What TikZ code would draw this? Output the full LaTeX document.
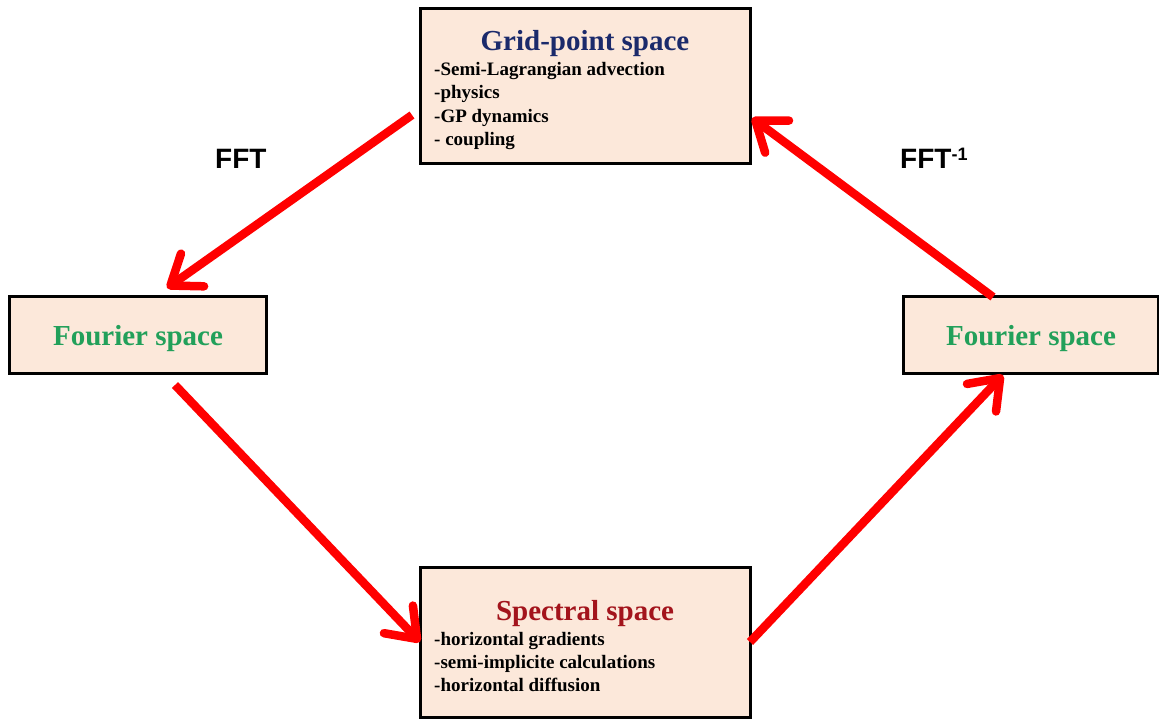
\documentclass[tikz,border=0pt]{standalone}
\usepackage{fontspec}
\setmainfont{Liberation Serif}
\newfontfamily\arialf{Liberation Sans}
\usetikzlibrary{arrows.meta}
\definecolor{boxfill}{HTML}{FCE8DA}
\definecolor{gpblue}{HTML}{1B2A6B}
\definecolor{specred}{HTML}{A3141C}
\definecolor{fgreen}{HTML}{22A05A}
\definecolor{arrred}{HTML}{FF0000}
\begin{document}
\begin{tikzpicture}[x=1pt,y=-1pt,
 panel/.style={draw=black,line width=3pt,fill=boxfill,inner sep=0pt},
 title/.style={anchor=base,inner sep=0pt,font=\bfseries\fontsize{29}{32}\selectfont},
 item/.style={anchor=base west,inner sep=0pt,font=\bfseries\fontsize{19}{23}\selectfont},
 flow/.style={draw=arrred,line width=8.5pt,-{Straight Barb[length=27pt,width=40pt,round]}},
 lbl/.style={anchor=base west,inner sep=0pt,font=\arialf\bfseries\fontsize{28}{30}\selectfont}]
\useasboundingbox (0,0) rectangle (1159,720);
% boxes
\node[panel,minimum width=330pt,minimum height=155pt] (gp) at (585,85.5) {};
\node[panel,minimum width=330pt,minimum height=150pt] (sp) at (585,642) {};
\node[panel,minimum width=257pt,minimum height=77pt] (fl) at (137.5,334.5) {};
\node[panel,minimum width=255pt,minimum height=77pt] (fr) at (1030.5,334.5) {};
% grid-point text
\node[title,text=gpblue] (gpt) at (585,50) {Grid-point space};
\node[item] (gp1) at (434,75) {-Semi-Lagrangian advection};
\node[item] (gp2) at (434,98) {-physics};
\node[item] (gp3) at (434,122) {-GP dynamics};
\node[item] (gp4) at (434,145) {- coupling};
% spectral text
\node[title,text=specred] (spt) at (585,620) {Spectral space};
\node[item] (sp1) at (434,645) {-horizontal gradients};
\node[item] (sp2) at (434,668) {-semi-implicite calculations};
\node[item] (sp3) at (434,691) {-horizontal diffusion};
% fourier text
\node[title,text=fgreen] (flt) at (138,345) {Fourier space};
\node[title,text=fgreen] (frt) at (1031,345) {Fourier space};
% labels
\node[lbl] (fft) at (215,168) {FFT};
\node[lbl] (ifft) at (900,168) {FFT\raisebox{8pt}{\fontsize{18}{18}\selectfont -1}};
% arrow end points
\coordinate (a1s) at (412,115);
\coordinate (a1e) at (167,288);
\coordinate (a2s) at (175,385);
\coordinate (a2e) at (420,642);
\coordinate (a3s) at (750,642);
\coordinate (a3e) at (1003,375);
\coordinate (a4s) at (993,297);
\coordinate (a4e) at (752,118);
\draw[flow] (a1s) -- (a1e);
\draw[flow] (a2s) -- (a2e);
\draw[flow] (a3s) -- (a3e);
\draw[flow] (a4s) -- (a4e);
\end{tikzpicture}
\end{document}
